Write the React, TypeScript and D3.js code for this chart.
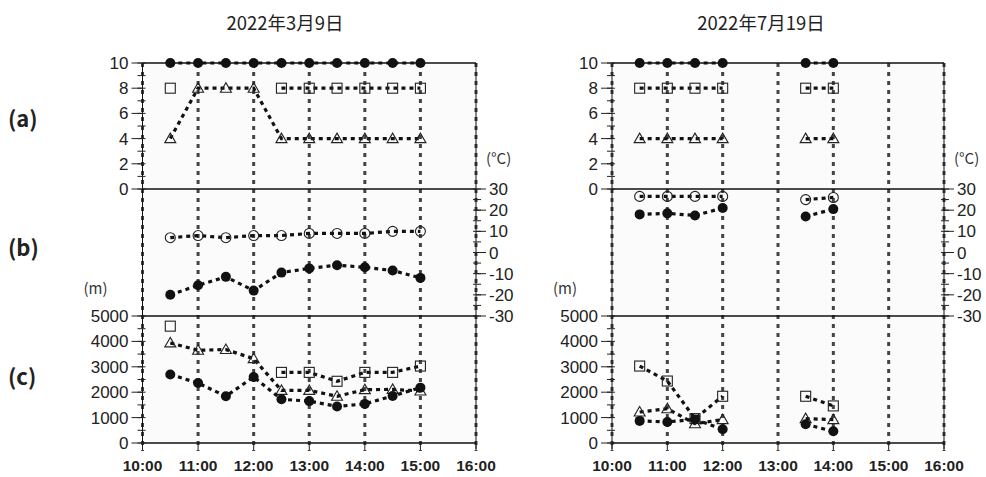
import React from "react";
import * as d3 from "d3";

// ---------- data ----------
const hourTicks = ["10:00", "11:00", "12:00", "13:00", "14:00", "15:00", "16:00"];
const timesLeft = ["10:30", "11:00", "11:30", "12:00", "12:30", "13:00", "13:30", "14:00", "14:30", "15:00"];
const timesRight = ["10:30", "11:00", "11:30", "12:00", "12:30", "13:00", "13:30", "14:00"];

const aTicks = [0, 2, 4, 6, 8, 10];
const bTicks = [-30, -20, -10, 0, 10, 20, 30];
const cTicks = [0, 1000, 2000, 3000, 4000, 5000];

// March 9 (left)
const leftA_circle = [10, 10, 10, 10, 10, 10, 10, 10, 10, 10];
const leftA_square = [8, null, null, null, 8, 8, 8, 8, 8, 8];
const leftA_triangle = [4, 8, 8, 8, 4, 4, 4, 4, 4, 4];
const leftB_open = [7, 8, 7, 8, 8, 9, 9, 9, 10, 10];
const leftB_filled = [-20, -15.5, -11.5, -18, -9.5, -7.5, -6, -7, -8.5, -12];
const leftC_square = [4600, null, null, null, 2780, 2780, 2430, 2780, 2780, 3030];
const leftC_triangle = [3940, 3650, 3680, 3320, 2070, 2070, 1840, 2100, 2110, 2050];
const leftC_filled = [2700, 2360, 1840, 2600, 1720, 1650, 1440, 1540, 1850, 2180];

// July 19 (right)
const rightA_circle = [10, 10, 10, 10, null, null, 10, 10];
const rightA_square = [8, 8, 8, 8, null, null, 8, 8];
const rightA_triangle = [4, 4, 4, 4, null, null, 4, 4];
const rightB_open = [26.5, 26.5, 26.5, 26.5, null, null, 25, 26];
const rightB_filled = [18, 18.5, 17.5, 21, null, null, 17, 20.5];
const rightC_square = [3030, 2440, 960, 1840, null, null, 1840, 1460];
const rightC_triangle = [1220, 1350, 760, 920, null, null, 960, 920];
const rightC_filled = [870, 830, 930, 540, null, null, 740, 460];

// ---------- layout ----------
const W = 986, H = 477;
const yA = [63, 189];
const yB = [189, 316];
const yC = [316, 443];
const NUM_FONT = "'Liberation Sans', Arial, sans-serif";
const CJK_FONT = "'Noto Sans CJK JP', 'Noto Sans', sans-serif";

const parseT = (s: string) => {
  const [h, m] = s.split(":").map(Number);
  return h + m / 60;
};

type Shape = "circle" | "open" | "square" | "triangle";

function Marker({ x, y, shape }: { x: number; y: number; shape: Shape }) {
  if (shape === "circle") return <circle cx={x} cy={y} r={5} fill="#111" />;
  if (shape === "open") return <circle cx={x} cy={y} r={5} fill="none" stroke="#222" strokeWidth={1.1} />;
  if (shape === "square")
    return <rect x={x - 5} y={y - 5} width={10} height={10} fill="none" stroke="#222" strokeWidth={1.1} />;
  return (
    <polygon
      points={`${x},${y - 5.5} ${x - 5.5},${y + 4} ${x + 5.5},${y + 4}`}
      fill="none"
      stroke="#222"
      strokeWidth={1.1}
    />
  );
}

function Series({
  times,
  values,
  x,
  y,
  shape,
}: {
  times: string[];
  values: (number | null)[];
  x: d3.ScaleLinear<number, number>;
  y: d3.ScaleLinear<number, number>;
  shape: Shape;
}) {
  const pts = times.map((t, i) => [parseT(t), values[i]] as [number, number | null]);
  const line = d3
    .line<[number, number | null]>()
    .defined((d) => d[1] != null)
    .x((d) => x(d[0]))
    .y((d) => y(d[1] as number));
  return (
    <g>
      <path d={line(pts) || ""} fill="none" stroke="#111" strokeWidth={3.2} strokeDasharray="4,4" />
      {pts
        .filter((p) => p[1] != null)
        .map((p, i) => (
          <Marker key={i} x={x(p[0])} y={y(p[1] as number)} shape={shape} />
        ))}
    </g>
  );
}

function Panel(props: {
  x0: number;
  x1: number;
  times: string[];
  a: [(number | null)[], (number | null)[], (number | null)[]];
  b: [(number | null)[], (number | null)[]];
  c: [(number | null)[], (number | null)[], (number | null)[]];
  title: string;
  titleX: number;
}) {
  const { x0, x1, times, a, b, c, title, titleX } = props;
  const x = d3.scaleLinear().domain([10, 16]).range([x0, x1]);
  const ya = d3.scaleLinear().domain([0, 10]).range([yA[1], yA[0]]);
  const yb = d3.scaleLinear().domain([-30, 30]).range([yB[1], yB[0]]);
  const yc = d3.scaleLinear().domain([0, 5000]).range([yC[1], yC[0]]);

  const aMinor = d3.range(0, 10.01, 1);
  const cMinor = d3.range(0, 5001, 500);
  const bMinor = d3.range(-30, 30.01, 5);

  return (
    <g>
      <text x={titleX} y={30} textAnchor="middle" fontFamily={CJK_FONT} fontSize={18.5} fill="#222">
        {title}
      </text>
      <rect x={x0} y={yA[0]} width={x1 - x0} height={yC[1] - yA[0]} fill="#fbfbfb" />
      {/* vertical dotted grid */}
      {hourTicks.map((t) => (
        <line
          key={"g" + t}
          x1={x(parseT(t))}
          x2={x(parseT(t))}
          y1={yA[0]}
          y2={yC[1] + 8}
          stroke="#444"
          strokeWidth={3}
          strokeDasharray="4,5"
        />
      ))}
      {/* frame */}
      <line x1={x0} x2={x0} y1={yA[0]} y2={yC[1] + 6} stroke="#111" strokeWidth={1} />
      <line x1={x1} x2={x1} y1={yA[0]} y2={yC[1] + 6} stroke="#111" strokeWidth={1} />
      {[yA[0], yA[1], yB[1], yC[1]].map((yy, i) => (
        <line key={"h" + i} x1={x0} x2={x1} y1={yy} y2={yy} stroke="#111" strokeWidth={1.5} />
      ))}
      {/* left axis a */}
      {aMinor.map((v) => (
        <line key={"am" + v} x1={x0 - 5} x2={x0 + 3} y1={ya(v)} y2={ya(v)} stroke="#222" strokeWidth={1} />
      ))}
      {aTicks.map((v) => (
        <g key={"a" + v}>
          <line x1={x0 - 11} x2={x0} y1={ya(v)} y2={ya(v)} stroke="#222" strokeWidth={1} />
          <text x={x0 - 14} y={ya(v) + 6} textAnchor="end" fontFamily={NUM_FONT} fontSize={17} fill="#222">
            {v}
          </text>
        </g>
      ))}
      {/* left axis c */}
      {cMinor.map((v) => (
        <line key={"cm" + v} x1={x0 - 5} x2={x0 + 3} y1={yc(v)} y2={yc(v)} stroke="#222" strokeWidth={1} />
      ))}
      {cTicks.map((v) => (
        <g key={"c" + v}>
          <line x1={x0 - 11} x2={x0} y1={yc(v)} y2={yc(v)} stroke="#222" strokeWidth={1} />
          <text x={x0 - 14} y={yc(v) + 6} textAnchor="end" fontFamily={NUM_FONT} fontSize={17} fill="#222">
            {v}
          </text>
        </g>
      ))}
      {/* right axis b */}
      {bMinor.map((v) => (
        <line key={"bm" + v} x1={x1 - 3} x2={x1 + 5} y1={yb(v)} y2={yb(v)} stroke="#222" strokeWidth={1} />
      ))}
      {bTicks.map((v) => (
        <g key={"b" + v}>
          <line x1={x1} x2={x1 + 10} y1={yb(v)} y2={yb(v)} stroke="#222" strokeWidth={1} />
          <text x={x1 + 13} y={yb(v) + 6} textAnchor="start" fontFamily={NUM_FONT} fontSize={17} fill="#222">
            {v}
          </text>
        </g>
      ))}
      {/* x axis */}
      {hourTicks.map((t) => (
        <g key={"x" + t}>
          <line x1={x(parseT(t))} x2={x(parseT(t))} y1={yC[1]} y2={yC[1] + 7} stroke="#222" strokeWidth={1} />
          <text
            x={x(parseT(t))}
            y={yC[1] + 28}
            textAnchor="middle"
            fontFamily={NUM_FONT}
            fontWeight="bold"
            fontSize={15.5}
            fill="#222"
          >
            {t}
          </text>
        </g>
      ))}
      {/* unit labels */}
      <text x={x0 - 59} y={294} fontFamily={CJK_FONT} fontSize={15} fill="#333">
        (m)
      </text>
      <text x={x1 + 10} y={164} fontFamily={CJK_FONT} fontSize={15} fill="#333">
        (°C)
      </text>
      {/* series */}
      <Series times={times} values={a[2]} x={x} y={ya} shape="triangle" />
      <Series times={times} values={a[1]} x={x} y={ya} shape="square" />
      <Series times={times} values={a[0]} x={x} y={ya} shape="circle" />
      <Series times={times} values={b[0]} x={x} y={yb} shape="open" />
      <Series times={times} values={b[1]} x={x} y={yb} shape="circle" />
      <Series times={times} values={c[1]} x={x} y={yc} shape="triangle" />
      <Series times={times} values={c[0]} x={x} y={yc} shape="square" />
      <Series times={times} values={c[2]} x={x} y={yc} shape="circle" />
    </g>
  );
}

export default function App() {
  return (
    <svg
      width={W}
      height={H}
      viewBox={`0 0 ${W} ${H}`}
      style={{ position: "absolute", left: 0, top: 0, background: "#fff" }}
    >
      <rect width={W} height={H} fill="#fff" />
      {["(a)", "(b)", "(c)"].map((s, i) => (
        <text key={s} x={8} y={[127, 256, 385][i]} fontFamily={CJK_FONT} fontWeight="bold" fontSize={22} fill="#222">
          {s}
        </text>
      ))}
      <Panel
        x0={142.5}
        x1={476}
        times={timesLeft}
        a={[leftA_circle, leftA_square, leftA_triangle]}
        b={[leftB_open, leftB_filled]}
        c={[leftC_square, leftC_triangle, leftC_filled]}
        title="2022年3月9日"
        titleX={285}
      />
      <Panel
        x0={612}
        x1={944}
        times={timesRight}
        a={[rightA_circle, rightA_square, rightA_triangle]}
        b={[rightB_open, rightB_filled]}
        c={[rightC_square, rightC_triangle, rightC_filled]}
        title="2022年7月19日"
        titleX={761}
      />
    </svg>
  );
}
